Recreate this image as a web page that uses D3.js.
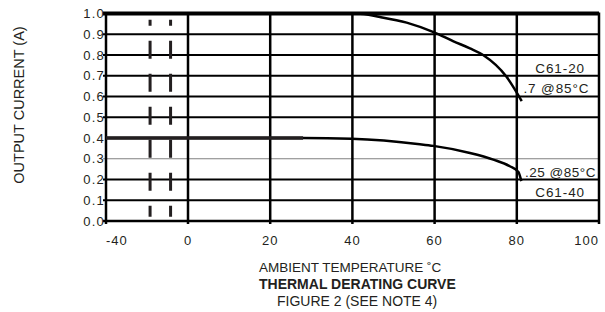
<!DOCTYPE html>
<html>
<head>
<meta charset="utf-8">
<script src="https://cdn.jsdelivr.net/npm/d3@7"></script>
<style>
  body { margin: 0; background: #fff; }
  text { font-family: "Liberation Sans", Arial, Helvetica, sans-serif; fill: #231f20; }
</style>
</head>
<body>
<script>
// data
const tempTicks = [-40, 0, 20, 40, 60, 80, 100];
const currentTicks = [0.0, 0.1, 0.2, 0.3, 0.4, 0.5, 0.6, 0.7, 0.8, 0.9, 1.0];
const c6120Temp = [-40, 40, 41.1, 46.7, 53.2, 59.9, 64.6, 68.6, 71.8, 77.5, 81.2];
const c6120Amps = [1.0, 1.0, 1.0, 0.983, 0.956, 0.909, 0.866, 0.832, 0.80, 0.695, 0.578];
const c6140Temp = [-40, 28, 39.8, 56.4, 59.7, 68.6, 74.3, 78.3, 80.4, 81.1];
const c6140Amps = [0.40, 0.40, 0.396, 0.370, 0.362, 0.328, 0.296, 0.264, 0.236, 0.192];
const breakTemps = [-18.5, -8.5];
const curveLabels = ["C61-20", ".7 @85°C", ".25 @85°C", "C61-40"];
const xTitle = "AMBIENT TEMPERATURE ˚C";
const yTitle = "OUTPUT CURRENT (A)";
const chartTitle = "THERMAL DERATING CURVE";
const figureNote = "FIGURE 2 (SEE NOTE 4)";

const width = 605, height = 312;

const svg = d3.select("body").append("svg")
    .attr("width", width)
    .attr("height", height);

// the -40..0 stretch is squeezed (axis break), so use a piecewise scale
const x = d3.scaleLinear().domain([-40, 0, 100]).range([106, 188, 599]);
const y = d3.scaleLinear().domain([0, 1]).range([221, 13.5]);

const grid = svg.append("g");

// horizontal grid (0.4 is only the curve, 0.3 is a thin grey rule)
grid.selectAll("line.h").data(currentTicks.filter(d => d !== 0.4)).enter()
    .append("line")
    .attr("class", "h")
    .attr("x1", x(-40) - 3)
    .attr("x2", x(100))
    .attr("y1", d => y(d))
    .attr("y2", d => y(d))
    .attr("stroke", d => d === 0.3 ? "#808080" : "#000")
    .attr("stroke-width", d => d === 1.0 ? 4 : d === 0.3 ? 1 : d === 0 ? 2.5 : 2);

// vertical grid
grid.selectAll("line.v").data(tempTicks).enter()
    .append("line")
    .attr("class", "v")
    .attr("x1", d => x(d))
    .attr("x2", d => x(d))
    .attr("y1", y(1) - 1)
    .attr("y2", y(0) + 3)
    .attr("stroke", "#000")
    .attr("stroke-width", 2.5);

// break marks
grid.selectAll("line.brk").data(breakTemps).enter()
    .append("line")
    .attr("x1", d => x(d))
    .attr("x2", d => x(d))
    .attr("y1", y(0.97))
    .attr("y2", y(0.02))
    .attr("stroke", "#231f20")
    .attr("stroke-width", 3)
    .attr("stroke-dasharray", "18,15")
    .attr("stroke-dashoffset", 12);

const line = d3.line()
    .x(d => x(d[0]))
    .y(d => y(d[1]))
    .curve(d3.curveMonotoneX);

const c6120 = c6120Temp.map((t, i) => [t, c6120Amps[i]]);
const c6140 = c6140Temp.map((t, i) => [t, c6140Amps[i]]);

svg.append("path").attr("d", line(c6120))
    .attr("fill", "none").attr("stroke", "#000").attr("stroke-width", 2.5);
svg.append("path").attr("d", line(c6140))
    .attr("fill", "none").attr("stroke", "#000").attr("stroke-width", 2.5);
// flat part of the lower curve is printed heavier
svg.append("path").attr("d", line(c6140.filter(d => d[0] <= 28)))
    .attr("fill", "none").attr("stroke", "#231f20").attr("stroke-width", 3.5);

// y tick labels
svg.selectAll("text.yt").data(currentTicks).enter()
    .append("text")
    .attr("x", x(-40) - 1)
    .attr("y", d => y(d))
    .attr("dy", "0.36em")
    .attr("text-anchor", "end")
    .style("font-size", "13px")
    .style("letter-spacing", "1.2px")
    .text(d => d.toFixed(1));

// x tick labels, outer ones sit inside the frame
svg.selectAll("text.xt").data(tempTicks).enter()
    .append("text")
    .attr("x", d => x(d))
    .attr("y", 245)
    .attr("text-anchor", (d, i) => i === 0 ? "start" : i === tempTicks.length - 1 ? "end" : "middle")
    .style("font-size", "13px")
    .style("letter-spacing", "1px")
    .text(d => d);

// curve annotations
const annPos = [[84.5, 0.714], [81.6, 0.617], [82.0, 0.212], [84.5, 0.116]];
svg.selectAll("text.ann").data(curveLabels).enter()
    .append("text")
    .attr("x", (d, i) => x(annPos[i][0]))
    .attr("y", (d, i) => y(annPos[i][1]))
    .style("font-size", "13.5px")
    .style("letter-spacing", (d, i) => i === 2 ? "0.5px" : "0.9px")
    .text(d => d);

svg.append("text")
    .attr("transform", "translate(24,105) rotate(-90)")
    .attr("text-anchor", "middle")
    .style("font-size", "14.5px")
    .text(yTitle);

svg.append("text")
    .attr("x", 259).attr("y", 271.5)
    .style("font-size", "13.5px")
    .text(xTitle);

svg.append("text")
    .attr("x", 259).attr("y", 289)
    .style("font-size", "14px")
    .style("font-weight", "bold")
    .text(chartTitle);

svg.append("text")
    .attr("x", 277).attr("y", 306)
    .style("font-size", "14px")
    .text(figureNote);
</script>
</body>
</html>
